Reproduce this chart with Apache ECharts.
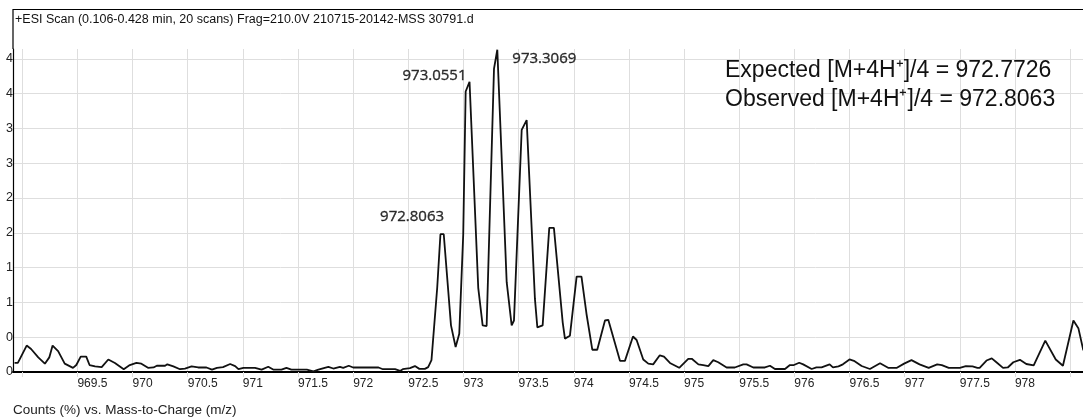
<!DOCTYPE html>
<html>
<head>
<meta charset="utf-8">
<script src="https://cdn.jsdelivr.net/npm/echarts@6/dist/echarts.min.js"></script>
<style>
  html, body { margin: 0; padding: 0; background: #fff; }
  #chart { width: 1083px; height: 420px; }
</style>
</head>
<body>
<div id="chart"></div>
<script>
// Mass spectrum profile: m/z and relative counts
const mzValues = [
  968.93, 968.96, 969.04, 969.08, 969.145, 969.205, 969.245, 969.275, 969.325, 969.385,
  969.46, 969.49, 969.53, 969.58, 969.61, 969.66, 969.72, 969.78, 969.84, 969.92,
  969.975, 970.035, 970.08, 970.14, 970.19, 970.22, 970.295, 970.315, 970.37, 970.43,
  970.475, 970.535, 970.595, 970.67, 970.72, 970.765, 970.82, 970.885, 970.93, 970.96,
  971.005, 971.11, 971.17, 971.23, 971.275, 971.35, 971.395, 971.44, 971.58, 971.64,
  971.685, 971.775, 971.82, 971.88, 971.91, 971.96, 972.0, 972.23, 972.27, 972.38,
  972.425, 972.45, 972.515, 972.56, 972.6, 972.65, 972.68, 972.71, 972.762, 972.7913,
  972.8213, 972.887, 972.929, 972.962, 972.998, 973.02, 973.0551, 973.134, 973.174, 973.21,
  973.277, 973.3069, 973.392, 973.437, 973.458, 973.528, 973.573, 973.648, 973.67, 973.718,
  973.778, 973.82, 973.9, 973.92, 973.965, 974.026, 974.07, 974.116, 974.168, 974.213,
  974.283, 974.313, 974.419, 974.464, 974.537, 974.57, 974.63, 974.676, 974.72, 974.78,
  974.818, 974.872, 974.956, 975.038, 975.07, 975.13, 975.174, 975.22, 975.265, 975.31,
  975.386, 975.46, 975.537, 975.567, 975.628, 975.733, 975.779, 975.824, 975.915, 975.96,
  975.996, 976.044, 976.08, 976.157, 976.2, 976.247, 976.32, 976.35, 976.4, 976.44,
  976.5, 976.54, 976.61, 976.685, 976.777, 976.85, 976.93, 976.995, 977.062, 977.135,
  977.218, 977.295, 977.337, 977.4, 977.5, 977.555, 977.615, 977.66, 977.68, 977.742,
  977.79, 977.832, 977.892, 977.935, 977.985, 978.045, 978.103, 978.17, 978.275, 978.37,
  978.435, 978.53, 978.575, 978.62
];
const counts = [
  0.13, 0.13, 0.38, 0.33, 0.21, 0.12, 0.21, 0.38, 0.30, 0.12,
  0.06, 0.10, 0.22, 0.22, 0.10, 0.08, 0.07, 0.18, 0.13, 0.04,
  0.10, 0.13, 0.12, 0.06, 0.065, 0.09, 0.09, 0.11, 0.08, 0.04,
  0.05, 0.08, 0.065, 0.065, 0.035, 0.06, 0.07, 0.115, 0.085, 0.04,
  0.06, 0.06, 0.035, 0.075, 0.035, 0.035, 0.06, 0.035, 0.035, 0.01,
  0.035, 0.075, 0.05, 0.075, 0.06, 0.09, 0.065, 0.065, 0.04, 0.04,
  0.015, 0.04, 0.055, 0.085, 0.045, 0.045, 0.07, 0.17, 1.21, 1.98,
  1.98, 0.67, 0.36, 0.55, 1.98, 4.03, 4.17, 1.21, 0.67, 0.66,
  4.36, 4.63, 1.29, 0.67, 0.74, 3.48, 3.62, 1.05, 0.64, 0.67,
  2.07, 2.07, 0.71, 0.48, 0.52, 1.37, 1.37, 0.83, 0.32, 0.32,
  0.74, 0.75, 0.16, 0.16, 0.51, 0.46, 0.18, 0.12, 0.11, 0.24,
  0.22, 0.13, 0.06, 0.19, 0.19, 0.11, 0.10, 0.085, 0.17, 0.14,
  0.065, 0.065, 0.11, 0.11, 0.065, 0.065, 0.09, 0.043, 0.043, 0.10,
  0.10, 0.133, 0.11, 0.043, 0.067, 0.067, 0.11, 0.067, 0.08, 0.11,
  0.18, 0.16, 0.086, 0.043, 0.125, 0.06, 0.06, 0.12, 0.17, 0.11,
  0.06, 0.11, 0.10, 0.06, 0.06, 0.085, 0.08, 0.06, 0.06, 0.165,
  0.195, 0.14, 0.06, 0.065, 0.14, 0.175, 0.115, 0.095, 0.45, 0.18,
  0.09, 0.74, 0.63, 0.31
];

// Labelled isotope peaks (m/z text and apex height)
const peakLabels = ['972.8063', '973.0551', '973.3069'];
const peakHeights = [1.98, 4.17, 4.63];

// Axis ticks and ranges
const xTickLabels = ['969.5', '970', '970.5', '971', '971.5', '972', '972.5', '973', '973.5',
  '974', '974.5', '975', '975.5', '976', '976.5', '977', '977.5', '978'];
const xRange = [968.916, 978.617];
const yRange = [0, 4.641];

const titleText = '+ESI Scan (0.106-0.428 min, 20 scans) Frag=210.0V 210715-20142-MSS 30791.d';
const axisCaption = 'Counts (%) vs. Mass-to-Charge (m/z)';
const expectedText = 'Expected [M+4H\u207A]/4 = 972.7726';
const observedText = 'Observed [M+4H\u207A]/4 = 972.8063';

const spectrum = mzValues.map((mz, i) => [mz, counts[i]]);
const peakPoints = peakLabels.map((t, i) => [parseFloat(t), peakHeights[i]]);
const peakLabelOffsets = [[-30, -17], [-35, -6], [47, 9]];

const sans = '"Liberation Sans", Arial, sans-serif';
const gridColor = '#dedede';

const chart = echarts.init(document.getElementById('chart'), null, { renderer: 'canvas' });
chart.setOption({
  animation: false,
  backgroundColor: '#fff',
  grid: { left: 13, right: 0, top: 49, bottom: 48, containLabel: false },
  xAxis: {
    type: 'value',
    min: xRange[0],
    max: xRange[1],
    minInterval: 0.5,
    maxInterval: 0.5,
    splitNumber: 19,
    axisLine: { show: true, onZero: false, lineStyle: { color: '#000', width: 2 } },
    axisTick: { show: true, length: 5, lineStyle: { color: gridColor, width: 1 } },
    axisLabel: {
      show: true,
      align: 'left',
      margin: 6,
      fontFamily: sans,
      fontSize: 12,
      color: '#222',
      showMinLabel: false,
      showMaxLabel: false,
      formatter: v => {
        const s = String(Math.round(v * 10) / 10);
        return xTickLabels.includes(s) ? s : '';
      }
    },
    splitLine: { show: true, showMinLine: false, showMaxLine: false, lineStyle: { color: gridColor, width: 1 } }
  },
  yAxis: {
    type: 'value',
    min: yRange[0],
    max: yRange[1],
    interval: 0.5,
    axisLine: { show: true, lineStyle: { color: '#000', width: 1.2 } },
    axisTick: { show: false },
    axisLabel: {
      show: true,
      margin: 0,
      fontFamily: sans,
      fontSize: 12.5,
      color: '#222',
      padding: [9, 0, 0, 0],
      showMaxLabel: false,
      formatter: v => String(Math.floor(v))
    },
    splitLine: { show: true, showMinLine: false, showMaxLine: false, lineStyle: { color: gridColor, width: 1 } }
  },
  series: [
    {
      type: 'line',
      data: spectrum,
      symbol: 'none',
      lineStyle: { color: '#111', width: 1.8 },
      z: 3
    },
    {
      type: 'scatter',
      data: peakPoints.map((p, i) => ({
        value: p,
        label: { offset: peakLabelOffsets[i] }
      })),
      symbolSize: 0,
      silent: true,
      label: {
        show: true,
        position: 'inside',
        formatter: p => peakLabels[p.dataIndex],
        fontFamily: '"Open Sans", sans-serif',
        fontSize: 15,
        color: '#000',
        textBorderColor: '#000',
        textBorderWidth: 0.35
      },
      z: 4
    }
  ],
  graphic: [
    {
      type: 'polyline',
      shape: { points: [[13, 49], [13, 9.5], [1083, 9.5]] },
      style: { stroke: '#000', lineWidth: 1.2, fill: null },
      z: 100
    },
    {
      type: 'text',
      left: 15, top: 13,
      z: 100,
      style: { text: titleText, font: '12.5px ' + sans, fill: '#111' }
    },
    {
      type: 'text',
      left: 13, top: 403,
      z: 100,
      style: { text: axisCaption, font: '13.5px ' + sans, fill: '#222' }
    },
    {
      type: 'text',
      left: 725, top: 59,
      z: 100,
      style: { text: expectedText, font: '23px ' + sans, fill: '#111' }
    },
    {
      type: 'text',
      left: 725, top: 88,
      z: 100,
      style: { text: observedText, font: '23px ' + sans, fill: '#111' }
    }
  ]
});
</script>
</body>
</html>
